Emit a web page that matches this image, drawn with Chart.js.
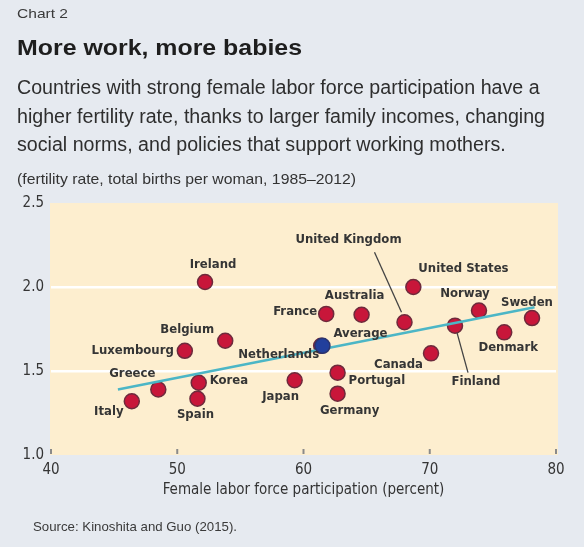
<!DOCTYPE html>
<html>
<head>
<meta charset="utf-8">
<script src="https://cdn.jsdelivr.net/npm/chart.js@4.4.1/dist/chart.umd.min.js"></script>
<style>
  html, body { margin: 0; padding: 0; background: #e6eaf0; }
  #wrap { position: relative; width: 584px; height: 547px; overflow: hidden; background: #e6eaf0; }
  #wrap canvas { position: absolute; left: 0; top: 0; }
  .t { position: absolute; left: 17px; white-space: nowrap; color: #2e2e2e; font-family: "Liberation Sans", Arial, sans-serif; transform-origin: 0 0; }
  #kicker { top: 6px; font-size: 13px; line-height: 16px; color: #3a3a3a; }
  #title { top: 35px; font-weight: bold; font-size: 22px; line-height: 26px; color: #1e1e1e; }
  #sub { top: 73px; font-size: 20px; line-height: 28.5px; color: #2e2e2e; }
  #unit { top: 170px; font-size: 15px; line-height: 17px; color: #333; }
  #source { left: 33px; top: 519px; font-size: 13.5px; line-height: 16px; color: #3a3a3a; }
</style>
</head>
<body>
<div id="wrap">
  <canvas id="c"></canvas>
  <div class="t" id="kicker" data-w="51">Chart 2</div>
  <div class="t" id="title" data-w="285">More work, more babies</div>
  <div class="t" id="sub" data-w="528">Countries with strong female labor force participation have a<br>higher fertility rate, thanks to larger family incomes, changing<br>social norms, and policies that support working mothers.</div>
  <div class="t" id="unit" data-w="339">(fertility rate, total births per woman, 1985–2012)</div>
  <div class="t" id="source" data-w="204">Source: Kinoshita and Guo (2015).</div>
</div>
<script>
// ---- data ----
const countries = ["Italy","Greece","Luxembourg","Spain","Korea","Ireland","Belgium","Japan","Netherlands","France","Portugal","Germany","Australia","United Kingdom","United States","Canada","Finland","Norway","Denmark","Sweden"];
const participation = [46.4, 48.5, 50.6, 51.6, 51.7, 52.2, 53.8, 59.3, 61.4, 61.8, 62.7, 62.7, 64.6, 68.0, 68.7, 70.1, 72.0, 73.9, 75.9, 78.1];
const fertility = [1.32, 1.39, 1.62, 1.335, 1.43, 2.03, 1.68, 1.445, 1.65, 1.84, 1.49, 1.365, 1.835, 1.79, 2.00, 1.605, 1.77, 1.86, 1.73, 1.815];
const averageName = ["Average"];
const averageX = [61.5];
const averageY = [1.65];
const trendX = [45.3, 78.3];
const trendY = [1.39, 1.88];
const xTicks = [40, 50, 60, 70, 80];
const yTicks = [1.0, 1.5, 2.0, 2.5];

// condense header/footer text to the reference widths
document.querySelectorAll('.t[data-w]').forEach(el => {
  const w = el.getBoundingClientRect().width;
  const target = parseFloat(el.dataset.w);
  if (w > 0) el.style.transform = 'scaleX(' + (target / w) + ')';
});

// ---- label placement (styling, pixel offsets from each marker) ----
const labelStyle = {
  "Italy": {dx: -23, dy: 10, align: "center"},
  "Greece": {dx: -26, dy: -16, align: "center"},
  "Luxembourg": {dx: -11, dy: 0, align: "right"},
  "Spain": {dx: -2, dy: 16, align: "center"},
  "Korea": {dx: 11, dy: -2, align: "left"},
  "Ireland": {dx: 8, dy: -17, align: "center"},
  "Belgium": {dx: -38, dy: -11, align: "center"},
  "Japan": {dx: -14, dy: 16, align: "center"},
  "Netherlands": {dx: -2, dy: 9, align: "right"},
  "France": {dx: -9, dy: -2, align: "right"},
  "Portugal": {dx: 11, dy: 8, align: "left"},
  "Germany": {dx: 12, dy: 17, align: "center"},
  "Australia": {dx: -7, dy: -19, align: "center"},
  "United Kingdom": {dx: -56, dy: -83, align: "center", leader: [-30, -70, -3, -10]},
  "United States": {dx: 5, dy: -18, align: "left"},
  "Canada": {dx: -8, dy: 11, align: "right"},
  "Finland": {dx: 21, dy: 56, align: "center", leader: [2, 7, 13, 47]},
  "Norway": {dx: -14, dy: -17, align: "center"},
  "Denmark": {dx: 4, dy: 15, align: "center"},
  "Sweden": {dx: -5, dy: -15, align: "center"},
  "Average": {dx: 11, dy: -12, align: "left"}
};

const NARROW = '"DejaVu Sans Condensed", "Liberation Sans Narrow", "Arial Narrow", sans-serif';

const plotBg = {
  id: 'plotBg',
  beforeDraw(chart) {
    const {ctx, chartArea: a} = chart;
    ctx.save();
    ctx.fillStyle = '#fdeecf';
    ctx.fillRect(a.left - 1, a.top, a.right - a.left + 3, a.bottom - a.top);
    ctx.restore();
  },
  afterDraw(chart) {
    const {ctx, chartArea: a, scales} = chart;
    ctx.save();
    ctx.strokeStyle = '#8a8a8a';
    ctx.lineWidth = 2;
    xTicks.forEach(v => {
      const x = scales.x.getPixelForValue(v);
      ctx.beginPath();
      ctx.moveTo(x, a.bottom - 6);
      ctx.lineTo(x, a.bottom - 1);
      ctx.stroke();
    });
    ctx.restore();
  }
};

const pointLabels = {
  id: 'pointLabels',
  afterDatasetsDraw(chart) {
    const {ctx} = chart;
    ctx.save();
    ctx.font = 'bold 13px ' + NARROW;
    ctx.fillStyle = '#353535';
    ctx.textBaseline = 'middle';
    [0, 2].forEach(di => {
      const meta = chart.getDatasetMeta(di);
      const names = chart.data.datasets[di].names;
      meta.data.forEach((el, i) => {
        const name = names[i];
        const s = labelStyle[name];
        if (!s) return;
        if (s.leader) {
          ctx.strokeStyle = '#444';
          ctx.lineWidth = 1.3;
          ctx.beginPath();
          ctx.moveTo(el.x + s.leader[0], el.y + s.leader[1]);
          ctx.lineTo(el.x + s.leader[2], el.y + s.leader[3]);
          ctx.stroke();
        }
        ctx.textAlign = s.align;
        ctx.fillText(name, el.x + s.dx, el.y + s.dy);
      });
    });
    ctx.restore();
  }
};

new Chart(document.getElementById('c'), {
  type: 'scatter',
  data: {
    datasets: [
      {
        label: 'Countries',
        names: countries,
        data: participation.map((x, i) => ({x: x, y: fertility[i]})),
        backgroundColor: '#c8163a',
        borderColor: '#6e2a3c',
        borderWidth: 1.5,
        pointRadius: 7.5,
        order: 3
      },
      {
        label: 'Trend',
        type: 'line',
        data: trendX.map((x, i) => ({x: x, y: trendY[i]})),
        borderColor: '#4cb6c6',
        borderWidth: 2.5,
        pointRadius: 0,
        fill: false,
        order: 2
      },
      {
        label: 'Average',
        names: averageName,
        data: averageX.map((x, i) => ({x: x, y: averageY[i]})),
        backgroundColor: '#223f9c',
        borderColor: '#2a3470',
        borderWidth: 1.5,
        pointRadius: 7.5,
        order: 1
      }
    ]
  },
  options: {
    responsive: true,
    maintainAspectRatio: false,
    animation: false,
    layout: { padding: { left: 0, top: 203, right: 28, bottom: 48 } },
    plugins: { legend: { display: false }, tooltip: { enabled: false } },
    scales: {
      x: {
        type: 'linear',
        min: 40, max: 80,
        afterBuildTicks(s) { s.ticks = xTicks.map(v => ({value: v})); },
        afterFit(s) { s.height = 44; },
        grid: { display: false, drawTicks: false, tickLength: 0 },
        border: { display: false },
        ticks: {
          padding: 6,
          font: { size: 15, family: NARROW },
          color: '#353535'
        },
        title: {
          display: true,
          text: 'Female labor force participation (percent)',
          font: { size: 15, family: NARROW },
          color: '#333',
          padding: { top: 2, bottom: 0 }
        }
      },
      y: {
        type: 'linear',
        min: 1.0, max: 2.5,
        afterBuildTicks(s) { s.ticks = yTicks.map(v => ({value: v})); },
        afterFit(s) { s.width = 51; },
        grid: {
          color: (c) => (c.tick && (c.tick.value === 1.5 || c.tick.value === 2.0)) ? '#ffffff' : 'rgba(0,0,0,0)',
          lineWidth: 2.5,
          drawTicks: false
        },
        border: { display: false },
        ticks: {
          padding: 7,
          font: { size: 15, family: NARROW },
          color: '#353535',
          callback: (v) => Number(v).toFixed(1)
        }
      }
    }
  },
  plugins: [plotBg, pointLabels]
});
</script>
</body>
</html>
